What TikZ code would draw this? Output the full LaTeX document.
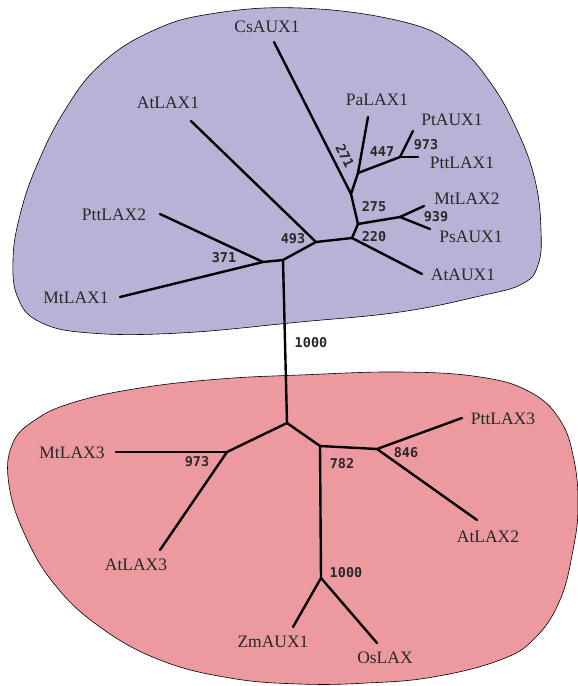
\documentclass[tikz,border=0pt]{standalone}
\usepackage{fontspec}
\setmainfont{Liberation Serif}
\newfontfamily\bootfont{DejaVu Sans Mono}
\definecolor{blobblue}{RGB}{184,179,214}
\definecolor{blobpink}{RGB}{236,154,160}
\definecolor{labgray}{RGB}{40,40,40}
\begin{document}
\begin{tikzpicture}[x=1pt,y=-1pt,
  leaf/.style={font=\fontsize{17.5}{20}\selectfont, text=labgray, inner sep=0pt},
  boot/.style={font=\bootfont\bfseries\fontsize{13.5}{15}\selectfont, text=labgray, inner sep=0pt},
  edge/.style={line width=2.4pt, line cap=round, line join=round},
  blob/.style={draw=black, line width=0.6pt}]
\useasboundingbox (0,0) rectangle (578,686);

% blobs
\draw[blob, fill=blobblue] plot[smooth cycle, tension=0.7] coordinates {
 (300,8) (400,21) (455,45) (490,82) (517,130) (535,180) (541,230) (538,265)
 (522,284) (480,296) (400,312) (300,322) (180,333) (90,333) (40,322) (18,298)
 (13,260) (20,215) (37,165) (65,110) (100,65) (150,32) (210,14)};
\draw[blob, fill=blobpink] plot[smooth cycle, tension=0.7] coordinates {
 (300,375) (400,372) (480,377) (530,392) (560,420) (574,460) (578,507) (573,550)
 (560,600) (535,638) (500,660) (433,677) (367,683) (300,684) (230,678) (160,660)
 (100,627) (55,585) (25,535) (9,485) (12,445) (35,420) (75,402) (140,388) (220,379)};

% internal nodes (top)
\coordinate (A) at (351,194);
\coordinate (B) at (358,173);
\coordinate (H) at (400,157);
\coordinate (C) at (358,224);
\coordinate (I) at (400,217);
\coordinate (D) at (352,238);
\coordinate (E) at (316,242);
\coordinate (F) at (283,260);
\coordinate (G) at (263,262);
% internal nodes (bottom)
\coordinate (J) at (287,423);
\coordinate (K) at (227,452);
\coordinate (L) at (320,446);
\coordinate (M) at (377,449);
\coordinate (N) at (321,578);

% leaf ends
\coordinate (eCs) at (274,42);
\coordinate (ePa) at (368,117);
\coordinate (ePt) at (413,131);
\coordinate (ePtt1) at (418,157);
\coordinate (eMt2) at (424,206);
\coordinate (ePs) at (430,229);
\coordinate (eAtA) at (422,274);
\coordinate (eAtL1) at (191,121);
\coordinate (ePtt2) at (160,214);
\coordinate (eMt1) at (120,297);
\coordinate (eMt3) at (116,452);
\coordinate (eAt3) at (160,550);
\coordinate (ePtt3) at (462,418);
\coordinate (eAt2) at (477,520);
\coordinate (eZm) at (293,627);
\coordinate (eOs) at (377,643);

% edges
\draw[edge] (eCs) -- (A);
\draw[edge] (A) -- (B);
\draw[edge] (B) -- (ePa);
\draw[edge] (B) -- (H);
\draw[edge] (H) -- (ePt);
\draw[edge] (H) -- (ePtt1);
\draw[edge] (A) -- (C);
\draw[edge] (C) -- (I);
\draw[edge] (I) -- (eMt2);
\draw[edge] (I) -- (ePs);
\draw[edge] (C) -- (D);
\draw[edge] (D) -- (eAtA);
\draw[edge] (D) -- (E);
\draw[edge] (E) -- (eAtL1);
\draw[edge] (E) -- (F);
\draw[edge] (F) -- (G);
\draw[edge] (G) -- (ePtt2);
\draw[edge] (G) -- (eMt1);
\draw[edge] (F) -- (J);
\draw[edge] (J) -- (K);
\draw[edge] (K) -- (eMt3);
\draw[edge] (K) -- (eAt3);
\draw[edge] (J) -- (L);
\draw[edge] (L) -- (M);
\draw[edge] (M) -- (ePtt3);
\draw[edge] (M) -- (eAt2);
\draw[edge] (L) -- (N);
\draw[edge] (N) -- (eZm);
\draw[edge] (N) -- (eOs);

% leaf labels
\node[leaf] (lCs) at (267,27) {CsAUX1};
\node[leaf] (lAtL1) at (168,103) {AtLAX1};
\node[leaf] (lPa) at (377,100) {PaLAX1};
\node[leaf] (lPt) at (452,120) {PtAUX1};
\node[leaf] (lPtt1) at (462,163) {PttLAX1};
\node[leaf] (lMt2) at (467,199) {MtLAX2};
\node[leaf] (lPs) at (471,237) {PsAUX1};
\node[leaf] (lAtA) at (463,275) {AtAUX1};
\node[leaf] (lPtt2) at (114,215) {PttLAX2};
\node[leaf] (lMt1) at (76,298) {MtLAX1};
\node[leaf] (lMt3) at (72,453) {MtLAX3};
\node[leaf] (lAt3) at (136,565) {AtLAX3};
\node[leaf] (lPtt3) at (503,419) {PttLAX3};
\node[leaf] (lAt2) at (488,537) {AtLAX2};
\node[leaf] (lZm) at (273,642) {ZmAUX1};
\node[leaf] (lOs) at (385,658) {OsLAX};

% bootstrap labels
\node[boot, rotate=-64] (b271) at (345,156) {271};
\node[boot] (b447) at (382,152) {447};
\node[boot] (b973a) at (426,145) {973};
\node[boot] (b275) at (374,207) {275};
\node[boot] (b939) at (436,217) {939};
\node[boot] (b220) at (374,237) {220};
\node[boot] (b493) at (293,239) {493};
\node[boot] (b371) at (224,258) {371};
\node[boot] (b1000a) at (311,343) {1000};
\node[boot] (b973b) at (197,462) {973};
\node[boot] (b782) at (342,464) {782};
\node[boot] (b846) at (406,453) {846};
\node[boot] (b1000b) at (346,573) {1000};
\end{tikzpicture}
\end{document}
